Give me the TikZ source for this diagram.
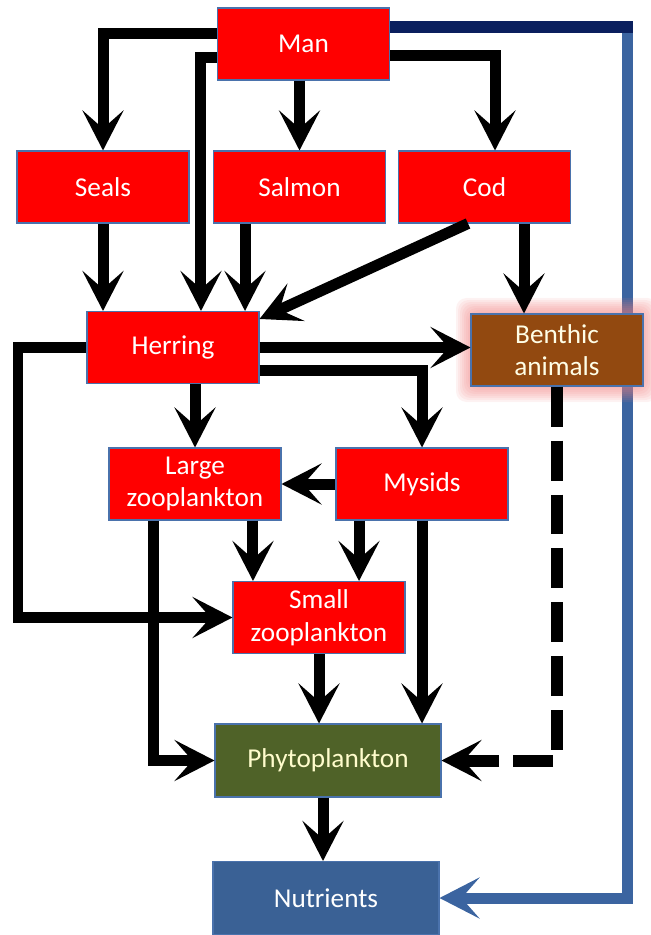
\documentclass[tikz,border=0pt]{standalone}
\usepackage{fontspec}
\setmainfont{Carlito}
\usetikzlibrary{arrows.meta,backgrounds}
\definecolor{boxred}{HTML}{FF0000}
\definecolor{edge}{HTML}{4A72AC}
\definecolor{benthbrown}{HTML}{924910}
\definecolor{phytogreen}{HTML}{4F6228}
\definecolor{nutrblue}{HTML}{3A6195}
\definecolor{rimblue}{HTML}{3B64A0}
\definecolor{rimnavy}{HTML}{0A1F5E}
\definecolor{glowpink}{HTML}{F08080}
\begin{document}
\begin{tikzpicture}[x=0.02cm,y=-0.02cm,
    box/.style={draw=edge, line width=0.6pt, fill=boxred, text=white,
      minimum width=3.44cm, minimum height=1.44cm, inner sep=0pt,
      align=center, font=\fontsize{15.5}{18.5}\selectfont},
    widebox/.style={box, minimum width=4.52cm, minimum height=1.46cm},
    feed/.style={line width=0.22cm, -{Stealth[length=0.8cm,width=0.82cm,inset=0.36cm]}},
    back/.style={feed, line width=0.24cm, dash pattern=on 0.8cm off 0.28cm}]
    \useasboundingbox (0,0) rectangle (650,935);

    % boxes
    \node[box] (man) at (303.5,44) {Man};
    \node[box] (seals) at (103,187) {Seals};
    \node[box] (salmon) at (299.5,187) {Salmon};
    \node[box] (cod) at (484.5,187) {Cod};
    \node[box] (herring) at (173,347.5) {Herring};
    \node[box, fill=benthbrown, text=white!90!yellow] (ben) at (557,350) {Benthic\\animals};
    \node[box] (large) at (195,484) {Large\\zooplankton};
    \node[box] (mysids) at (422,484) {Mysids};
    \node[box] (small) at (319,617.5) {Small\\zooplankton};
    \node[widebox, fill=phytogreen, text=white!80!yellow] (phyto) at (328,760.5) {Phytoplankton};
    \node[widebox, fill=nutrblue] (nutr) at (326,898) {Nutrients};

    \coordinate (leftrim) at (18,0);
    \coordinate (rightrim) at (627,0);

    % man back to nutrients, behind the glow
    \begin{scope}[on background layer]
        \draw[feed, rimblue] ([yshift=0.34cm]man.east) -- ([yshift=0.34cm]man.east -| rightrim)
            -- (rightrim |- nutr.east) -- (nutr.east);
        \draw[rimnavy, line width=0.24cm] ([yshift=0.34cm]man.east) -- ([xshift=0.12cm,yshift=0.34cm]man.east -| rightrim);
        \foreach \g in {16,14,...,2}
            \fill[glowpink, opacity=0.1, rounded corners=6pt] (472-\g,314-\g) rectangle (642+\g,386+\g);
    \end{scope}

    % top level
    \draw[feed] ([yshift=0.2cm]man.west) -| (seals.north);
    \draw[feed] ([yshift=-0.28cm]man.west) -| ([xshift=0.56cm]herring.north);
    \draw[feed] (salmon.north |- man.south) -- (salmon.north);
    \draw[feed] ([yshift=-0.24cm]man.east) -| ([xshift=0.21cm]cod.north);

    % fish
    \draw[feed] (seals.south) -- (seals.south |- herring.north);
    \draw[feed] ([xshift=-1.09cm]salmon.south) -- ([xshift=-1.09cm]salmon.south |- herring.north);
    \draw[feed] ([xshift=-0.33cm]cod.south) -- ([yshift=-0.16cm]herring.north east);
    \draw[feed] ([xshift=0.79cm]cod.south) -- ([xshift=0.79cm]cod.south |- ben.north);

    % herring
    \draw[feed] (herring.west) -- (herring.west -| leftrim) |- (small.west);
    \draw[feed] (herring.east) -- (herring.east -| ben.west);
    \draw[feed] ([yshift=-0.46cm]herring.east) -| (mysids.north);
    \draw[feed] (herring.south -| large.north) -- (large.north);

    % plankton
    \draw[feed] (mysids.west) -- (large.east);
    \draw[feed] ([xshift=1.16cm]large.south) -- ([xshift=1.16cm]large.south |- small.north);
    \draw[feed] ([xshift=-1.26cm]mysids.south) -- ([xshift=-1.26cm]mysids.south |- small.north);
    \draw[feed] ([xshift=-0.84cm]large.south) |- (phyto.west);
    \draw[feed] (small.south) -- (small.south |- phyto.north);
    \draw[feed] (mysids.south) -- (mysids.south |- phyto.north);
    \draw[back] (ben.south) |- (phyto.east);
    \draw[feed] ([xshift=-0.1cm]phyto.south) -- ([xshift=-0.1cm]phyto.south |- nutr.north);
\end{tikzpicture}
\end{document}
